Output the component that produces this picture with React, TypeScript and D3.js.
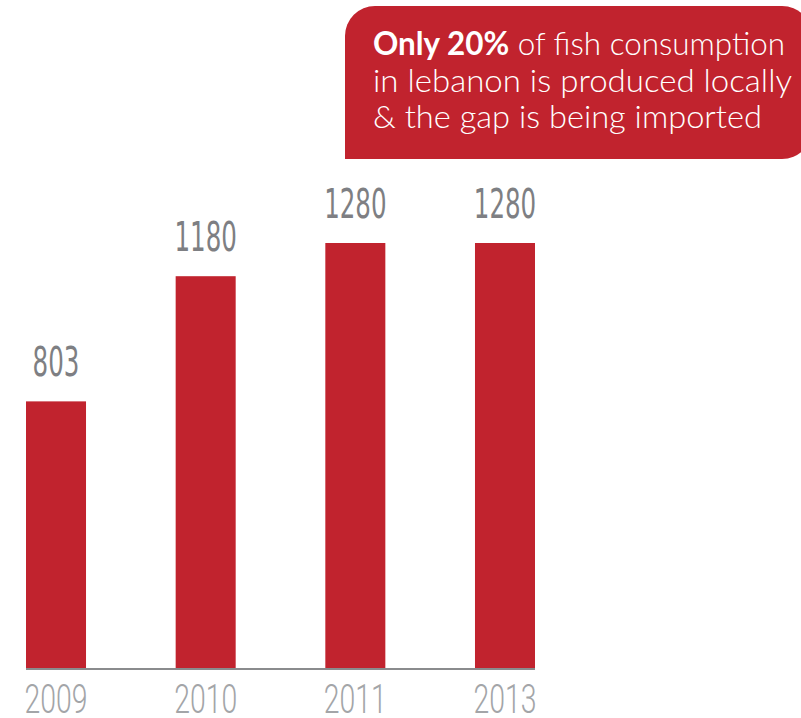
import * as d3 from "d3";

const years = ["2009", "2010", "2011", "2013"];
const values = [803, 1180, 1280, 1280];
const calloutBold = "Only 20%";
const calloutLines = [
  " of fish consumption",
  "in lebanon is produced locally",
  "& the gap is being imported",
];

const W = 801;
const H = 718;
const RED = "#c1232e";

export default function App() {
  const x = d3.scaleBand<string>().domain(years).range([26, 535]).paddingInner(0.599).paddingOuter(0);
  const y = d3.scaleLinear().domain([0, 1280]).range([668, 243]);
  const bw = x.bandwidth();

  // callout box: rounded top-left and right side, square bottom-left
  const bx = 345, by = 6, bx2 = 812, by2 = 159, r = 30;
  const boxPath = d3.path();
  boxPath.moveTo(bx, by2);
  boxPath.lineTo(bx, by + r);
  boxPath.arcTo(bx, by, bx + r, by, r);
  boxPath.lineTo(bx2 - r, by);
  boxPath.arcTo(bx2, by, bx2, by + r, r);
  boxPath.lineTo(bx2, by2 - r);
  boxPath.arcTo(bx2, by2, bx2 - r, by2, r);
  boxPath.closePath();

  const lineW = [412, 419, 389];
  const lineY = [55, 92, 128];

  return (
    <svg width={W} height={H} style={{ position: "absolute", left: 0, top: 0, background: "#fff" }}>
      <path d={boxPath.toString()} fill={RED} />
      {calloutLines.map((t, i) => (
        <text
          key={i}
          x={373}
          y={lineY[i]}
          fill="#fff"
          fontFamily="'Lato', 'Open Sans', sans-serif"
          fontSize={32}
          fontWeight={300}
          textLength={lineW[i]}
          lengthAdjust="spacingAndGlyphs"
        >
          {i === 0 && <tspan fontWeight={700}>{calloutBold}</tspan>}
          {t}
        </text>
      ))}

      {years.map((yr, i) => (
        <g key={yr}>
          <rect x={x(yr)} y={y(values[i])} width={bw} height={y(0) - y(values[i])} fill={RED} />
          <text
            x={(x(yr) ?? 0) + bw / 2}
            y={y(values[i]) - 25}
            textAnchor="middle"
            fill="#7e7f83"
            fontFamily="'Liberation Sans Narrow', 'DejaVu Sans Condensed', 'Liberation Sans', sans-serif"
            fontSize={40}
            textLength={String(values[i]).length * 15.6}
            lengthAdjust="spacingAndGlyphs"
          >
            {values[i]}
          </text>
          <text
            x={(x(yr) ?? 0) + bw / 2}
            y={713}
            textAnchor="middle"
            fill="#a3a5a8"
            fontFamily="Roboto, 'Liberation Sans Narrow', sans-serif"
            fontWeight={300}
            fontSize={40}
            textLength={63}
            lengthAdjust="spacingAndGlyphs"
          >
            {yr}
          </text>
        </g>
      ))}

      <line x1={x.range()[0]} x2={x.range()[1]} y1={669} y2={669} stroke="#8a8b8d" strokeWidth={2} />
    </svg>
  );
}
